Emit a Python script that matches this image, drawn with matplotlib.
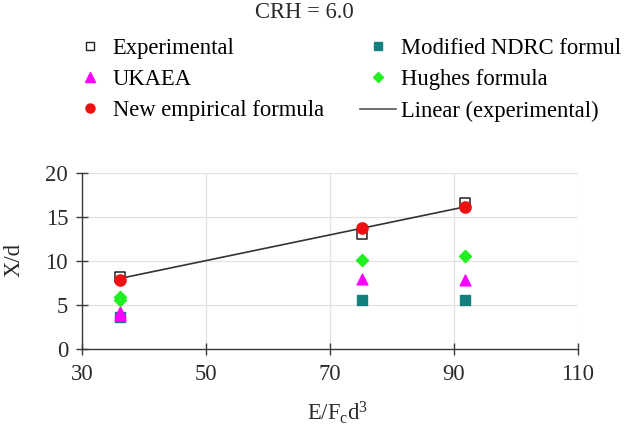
import numpy as np
import matplotlib
matplotlib.use("Agg")
import matplotlib.pyplot as plt
from matplotlib.lines import Line2D

plt.rcParams['font.family'] = ['Liberation Serif', 'DejaVu Serif']
plt.rcParams['mathtext.fontset'] = 'custom'
plt.rcParams['mathtext.rm'] = 'Liberation Serif'
plt.rcParams['mathtext.it'] = 'Liberation Serif'

title = "CRH = 6.0"
x_vals = [36.1, 75.2, 91.8]
experimental = [8.2, 13.1, 16.6]
new_empirical = [7.8, 13.7, 16.1]
hughes_x = [36.1, 36.1, 75.2, 91.8]
hughes = [5.55, 5.9, 10.1, 10.55]
ukaea_x = [36.1, 36.1, 75.2, 91.8]
ukaea = [3.9, 4.25, 8.0, 7.85]
ndrc = [3.6, 5.55, 5.55]
x_ticks = [30, 50, 70, 90, 110]
y_ticks = [0, 5, 10, 15, 20]

FS = 16.3
fig = plt.figure(figsize=(6.24, 4.29), dpi=100)
ax = fig.add_axes([82 / 624, 1 - 349 / 429, 496 / 624, 176 / 429])

ax.set_xlim(30, 110)
ax.set_ylim(0, 20)
ax.set_xticks(x_ticks)
ax.set_yticks(y_ticks)
ax.grid(True, color='#e2e2e2', linewidth=0.9)
ax.set_axisbelow(True)
for s in ['top', 'right']:
    ax.spines[s].set_visible(False)
for s in ['left', 'bottom']:
    ax.spines[s].set_color('#3a3a3a')
    ax.spines[s].set_linewidth(1.0)
ax.tick_params(direction='inout', length=8, width=1.0, color='#3a3a3a',
               labelsize=FS, labelcolor='#2a2a2a')
ax.tick_params(axis='x', pad=7)
ax.tick_params(axis='y', pad=6)

# linear trend line of experimental data
coef = np.polyfit(x_vals, experimental, 1)
xl = np.array([x_vals[0], x_vals[-1]])
ax.plot(xl, np.polyval(coef, xl), color='#333333', linewidth=1.2, zorder=3)

ax.scatter(x_vals, ndrc, marker='s', s=45, color='#138080', zorder=4)
ax.scatter(ukaea_x, ukaea, marker='^', s=60, color='#ff00ff', zorder=4)
ax.scatter(hughes_x, hughes, marker='D', s=38, color='#22ee22', zorder=4)
ax.scatter(x_vals, experimental, marker='s', s=55, facecolor='white',
           edgecolor='#222222', linewidth=1.1, zorder=5)
ax.scatter(x_vals, new_empirical, marker='o', s=65, color='#ee1111', zorder=6)

ax.set_xlabel(r'E/F$_{\mathrm{c}}$d$^{3}$', fontsize=FS, color='#2a2a2a')
ax.xaxis.set_label_coords((338 - 82) / 496, (349 - 400) / 176)
ax.set_ylabel('X/d', fontsize=FS, color='#2a2a2a')
ax.yaxis.set_label_coords(-0.115, 0.506)

fig.text(304 / 624, 1 - 18 / 429, title, ha='center', va='baseline',
         fontsize=FS, color='#2a2a2a')

handles1 = [
    Line2D([], [], linestyle='none', marker='s', markersize=6, markerfacecolor='white',
           markeredgecolor='#222222', markeredgewidth=1),
    Line2D([], [], linestyle='none', marker='^', markersize=7, color='#ff00ff'),
    Line2D([], [], linestyle='none', marker='o', markersize=6.5, color='#ee1111'),
]
labels1 = ['Experimental', 'UKAEA', 'New empirical formula']
handles2 = [
    Line2D([], [], linestyle='none', marker='s', markersize=6, color='#138080'),
    Line2D([], [], linestyle='none', marker='D', markersize=5, color='#22ee22'),
    Line2D([], [], color='#555555', linewidth=1.2),
]
labels2 = ['Modified NDRC formul', 'Hughes formula', 'Linear (experimental)']

common = dict(frameon=False, fontsize=FS, handlelength=1.6, handletextpad=0.2,
              labelspacing=0.45, borderpad=0, borderaxespad=0, loc='upper left')
leg1 = fig.legend(handles1, labels1, bbox_to_anchor=(72 / 624, 1 - 38 / 429), **common)
leg2 = fig.legend(handles2, labels2, bbox_to_anchor=(360 / 624, 1 - 38 / 429), **common)

fig.savefig('out.png', dpi=100)
